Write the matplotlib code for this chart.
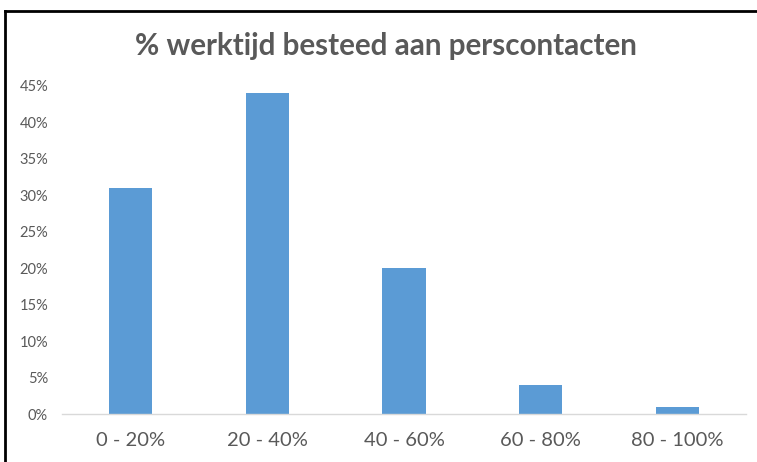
import matplotlib.pyplot as plt
from matplotlib.lines import Line2D
from matplotlib.ticker import FuncFormatter

plt.rcParams['font.family'] = ['Lato', 'DejaVu Sans']

categories = ['0 - 20%', '20 - 40%', '40 - 60%', '60 - 80%', '80 - 100%']
shares = [31, 44, 20, 4, 1]
y_ticks = [0, 5, 10, 15, 20, 25, 30, 35, 40, 45]

text_grey = '#595959'
bar_blue = '#5b9bd5'

fig = plt.figure(figsize=(7.57, 4.62), dpi=100)
ax = fig.add_axes([62 / 757, 1 - 414 / 462, (746 - 62) / 757, (414 - 86) / 462])

ax.bar(range(len(categories)), shares, width=0.315, color=bar_blue)
ax.set_xlim(-0.5, len(categories) - 0.5)
ax.set_ylim(0, 45)
ax.set_yticks(y_ticks)
ax.yaxis.set_major_formatter(FuncFormatter(lambda v, p: f'{v:.0f}%'))
ax.set_xticks(range(len(categories)))
ax.set_xticklabels(categories)

for side in ['top', 'right', 'left']:
    ax.spines[side].set_visible(False)
ax.spines['bottom'].set_color('#d9d9d9')
ax.spines['bottom'].set_linewidth(1)
ax.tick_params(axis='y', length=0, labelsize=10.5, labelcolor=text_grey, pad=10)
ax.tick_params(axis='x', length=0, labelsize=14.5, labelcolor=text_grey, pad=13)

fig.text(386 / 757, 1 - 46 / 462, '% werktijd besteed aan perscontacten', ha='center',
         va='center', fontsize=21.3, fontweight='bold', color=text_grey)

# outer frame: top and left edges only
fig.add_artist(Line2D([5 / 757, 1], [1 - 11 / 462, 1 - 11 / 462], color='black', lw=2,
                      transform=fig.transFigure))
fig.add_artist(Line2D([5 / 757, 5 / 757], [0, 1 - 11 / 462], color='black', lw=2,
                      transform=fig.transFigure))

fig.savefig('out.png', dpi=100)
